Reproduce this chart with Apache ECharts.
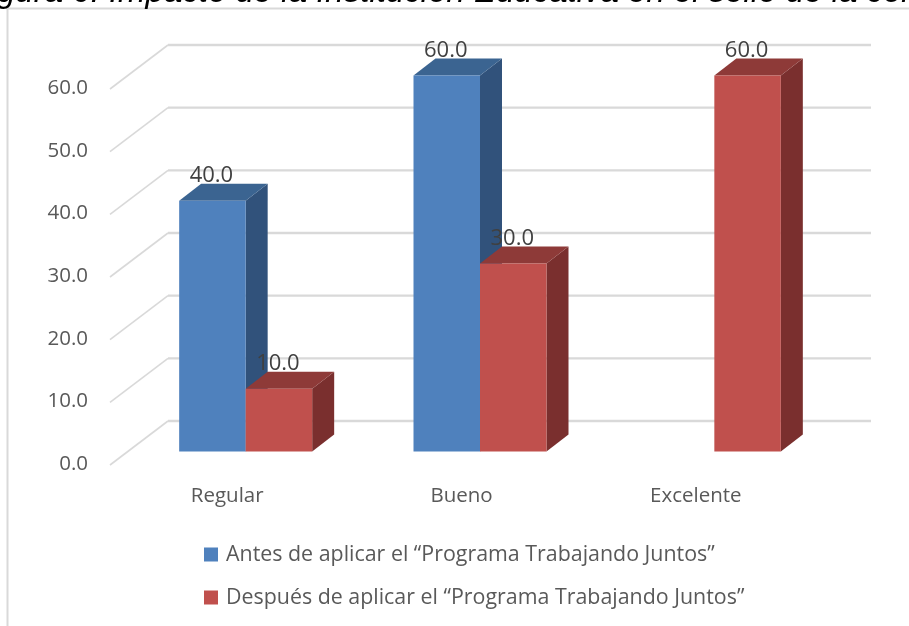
<!DOCTYPE html>
<html>
<head>
<meta charset="utf-8">
<style>
  html, body { margin: 0; padding: 0; background: #fff; }
  #chart { width: 909px; height: 626px; }
</style>
<script src="https://cdn.jsdelivr.net/npm/echarts@6/dist/echarts.min.js"></script>
</head>
<body>
<div id="chart"></div>
<script>
const categories = ['Regular', 'Bueno', 'Excelente'];
const antes = [40, 60, null];
const despues = [10, 30, 60];
const yTicks = [0, 10, 20, 30, 40, 50, 60];
const serieAntes = 'Antes de aplicar el “Programa Trabajando Juntos”';
const serieDespues = 'Después de aplicar el “Programa Trabajando Juntos”';
const tituloCortado = 'gura 6: Impacto de la Institución Educativa en el sello de la con';

const FONT = '"Open Sans", "Noto Sans", sans-serif';
const BAR_W = 66.5;
const DEPTH_X = 22, DEPTH_Y = 17;   // profundidad de cada barra
const WALL_X = 58, WALL_Y = 43;     // del plano frontal a la pared del fondo

function barSeries(name, data, side, colors) {
  return {
    name,
    type: 'custom',
    coordinateSystem: 'cartesian2d',
    itemStyle: { color: colors.front },
    data: data.map((v, i) => [i, v]),
    encode: { x: 0, y: 1 },
    z: 3,
    renderItem(params, api) {
      const value = api.value(1);
      if (value == null || isNaN(value)) return null;
      const top = api.coord([api.value(0), value]);
      const base = api.coord([api.value(0), 0]);
      // 18.5 a la derecha del centro de la categoría, 12.5 arriba del plano del eje
      const cx = top[0] + 18.5;
      const x0 = side < 0 ? cx - BAR_W : cx;
      const x1 = x0 + BAR_W;
      const yTop = top[1] - 12.5;
      const yBase = base[1] - 12.5;
      return {
        type: 'group',
        children: [
          { type: 'polygon', shape: { points: [[x1, yTop], [x1 + DEPTH_X, yTop - DEPTH_Y], [x1 + DEPTH_X, yBase - DEPTH_Y], [x1, yBase]] }, style: { fill: colors.side } },
          { type: 'polygon', shape: { points: [[x0, yTop], [x0 + DEPTH_X, yTop - DEPTH_Y], [x1 + DEPTH_X, yTop - DEPTH_Y], [x1, yTop]] }, style: { fill: colors.top } },
          { type: 'rect', shape: { x: x0, y: yTop, width: BAR_W, height: yBase - yTop }, style: { fill: colors.front } },
          { type: 'text', z2: 50, style: { x: (x0 + x1) / 2 - 1, y: yTop - 25, text: value.toFixed(1), fill: '#404040', font: '22px ' + FONT, textAlign: 'center', textVerticalAlign: 'middle' } }
        ]
      };
    }
  };
}

const chart = echarts.init(document.getElementById('chart'), null, { renderer: 'canvas' });
chart.setOption({
  animation: false,
  backgroundColor: '#fff',
  graphic: [
    { type: 'rect', z: -1, shape: { x: 7.5, y: 8.5, width: 920, height: 640 }, style: { fill: '#fff', stroke: '#d9d9d9', lineWidth: 2 } },
    { type: 'text', left: -3, top: -24, style: { text: tituloCortado, fill: '#000', font: 'italic 33px "Liberation Sans", Arial, sans-serif' } }
  ],
  grid: { left: 110, right: 96, top: 88, bottom: 162 },
  legend: {
    orient: 'vertical',
    left: 199,
    top: 539,
    itemWidth: 14,
    itemHeight: 14,
    itemGap: 22,
    icon: 'rect',
    selectedMode: false,
    data: [serieAntes, serieDespues],
    textStyle: { color: '#595959', fontSize: 21.4, fontFamily: FONT, padding: [0, 0, 0, 3] }
  },
  xAxis: {
    type: 'category',
    data: categories,
    axisLine: { show: false },
    axisTick: { show: false },
    axisLabel: { color: '#595959', fontSize: 20.5, fontFamily: FONT, margin: 22 }
  },
  yAxis: {
    type: 'value',
    min: 0,
    max: 60,
    interval: 10,
    axisLine: { show: false },
    axisTick: { show: false },
    splitLine: { show: false },
    axisLabel: { color: '#595959', fontSize: 20.5, fontFamily: FONT, margin: 22, formatter: v => v.toFixed(1) }
  },
  series: [
    {
      // piso y paredes: una línea en diagonal y otra al fondo por cada marca del eje
      type: 'custom',
      coordinateSystem: 'cartesian2d',
      silent: true,
      legendHoverLink: false,
      z: 1,
      data: yTicks.map(v => [0, v]),
      encode: { x: 0, y: 1 },
      renderItem(params, api) {
        const rect = params.coordSys;
        const y = api.coord([0, api.value(1)])[1];
        const x0 = rect.x, x1 = rect.x + rect.width;
        return {
          type: 'group',
          children: [
            { type: 'line', shape: { x1: x0, y1: y + 1, x2: x0 + WALL_X, y2: y - WALL_Y }, style: { stroke: '#d9d9d9', lineWidth: 1.6 } },
            { type: 'line', shape: { x1: x0 + WALL_X, y1: y - WALL_Y, x2: x1 + WALL_X, y2: y - WALL_Y }, style: { stroke: '#d9d9d9', lineWidth: 2.4 } }
          ]
        };
      }
    },
    barSeries(serieAntes, antes, -1, { front: '#4f81bd', top: '#3b6491', side: '#31527b' }),
    barSeries(serieDespues, despues, 1, { front: '#c0504d', top: '#8e3a38', side: '#7a2f2e' })
  ]
});
</script>
</body>
</html>
